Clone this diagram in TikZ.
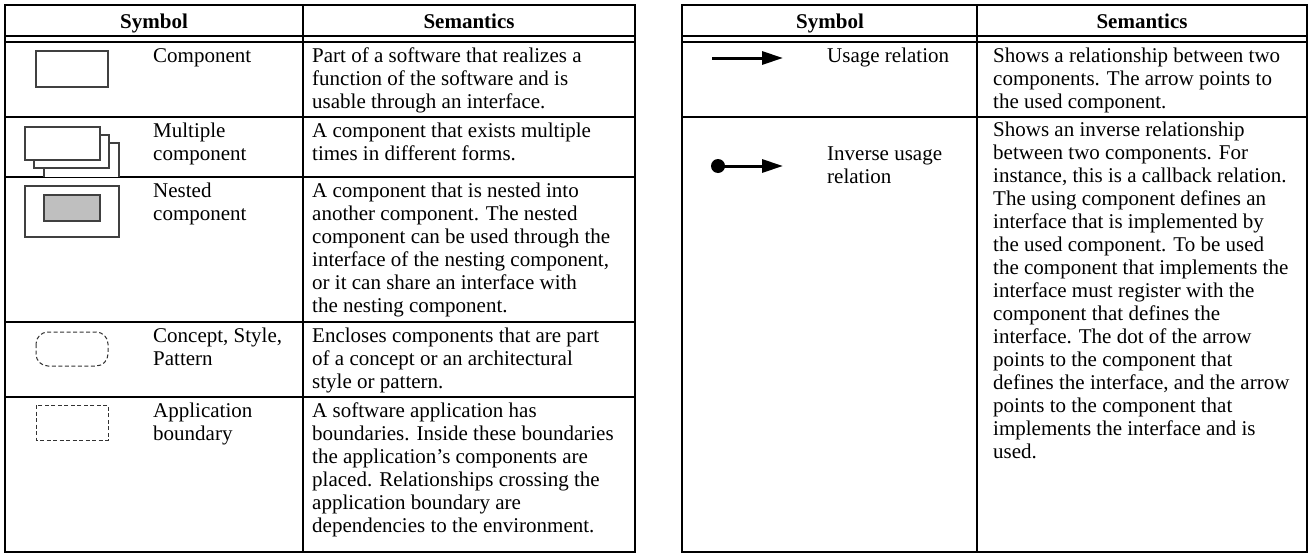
\documentclass[tikz,border=0pt]{standalone}
\usepackage{fontspec}
\setmainfont{Liberation Serif}
\usetikzlibrary{arrows.meta}
\newcommand{\celltext}[1]{\parbox[t]{340pt}{\raggedright #1}}
\begin{document}
\begin{tikzpicture}[x=1pt,y=-1pt,
  rule/.style={line width=2.3pt},
  thinrule/.style={line width=1.8pt},
  txt/.style={anchor=base west, inner sep=0pt, font=\fontsize{21}{23}\selectfont},
  head/.style={anchor=base, inner sep=0pt, font=\fontsize{21}{23}\selectfont\bfseries},
  comp/.style={draw=black!75, line width=1.3pt, fill=white},
  dashbox/.style={draw=black!80, line width=1pt, dash pattern=on 4pt off 2.5pt},
  usage/.style={line width=3pt, -{Triangle[length=21pt,width=13pt]}},
]
\useasboundingbox (0,0) rectangle (1312,557);
\fill[white] (0,0) rectangle (1312,557);

% ---------------- left table frame ----------------
\draw[rule] (5,5) rectangle (635,552);
\draw[rule] (303,5) -- (303,552);
\draw[thinrule] (5,36) -- (635,36);
\draw[thinrule] (5,42) -- (635,42);
\draw[rule] (5,117) -- (635,117);
\draw[rule] (5,177) -- (635,177);
\draw[rule] (5,322) -- (635,322);
\draw[rule] (5,397) -- (635,397);

% ---------------- right table frame ----------------
\draw[rule] (682,5) rectangle (1307,552);
\draw[rule] (977,5) -- (977,552);
\draw[thinrule] (682,36) -- (1307,36);
\draw[thinrule] (682,42) -- (1307,42);
\draw[rule] (682,117) -- (1307,117);

% ---------------- headers ----------------
\node[head] (hL1) at (154,28) {Symbol};
\node[head] (hL2) at (469,28) {Semantics};
\node[head] (hR1) at (830,28) {Symbol};
\node[head] (hR2) at (1142,28) {Semantics};

% ---------------- left symbols ----------------
% component
\draw[comp] (36,51) rectangle (108,87);
% multiple component
\draw[comp] (44,177) -- (44,143) -- (119,143) -- (119,177);
\draw[comp] (34,135) rectangle (109,168);
\draw[comp] (25,127) rectangle (100,160);
% nested component
\draw[comp] (25,186) rectangle (119,237);
\draw[comp, fill=black!25] (44,195) rectangle (100,221);
% concept, style, pattern
\draw[dashbox, rounded corners=12pt] (36,332) rectangle (108,366);
% application boundary
\draw[dashbox] (36,405) rectangle (108,440);

% ---------------- left labels ----------------
\node[txt] (l1) at (153,62) {\celltext{Component}};
\node[txt] (l2) at (153,137) {\celltext{Multiple\\component}};
\node[txt] (l3) at (153,197) {\celltext{Nested\\component}};
\node[txt] (l4) at (153,342) {\celltext{Concept, Style,\\Pattern}};
\node[txt] (l5) at (153,417) {\celltext{Application\\boundary}};

% ---------------- left semantics ----------------
\node[txt] (s1) at (312,62) {\celltext{Part of a software that realizes a\\function of the software and is\\usable through an interface.}};
\node[txt] (s2) at (312,137) {\celltext{A component that exists multiple\\times in different forms.}};
\node[txt] (s3) at (312,197) {\celltext{A component that is nested into\\another component. The nested\\component can be used through the\\interface of the nesting component,\\or it can share an interface with\\the nesting component.}};
\node[txt] (s4) at (312,342) {\celltext{Encloses components that are part\\of a concept or an architectural\\style or pattern.}};
\node[txt] (s5) at (312,417) {\celltext{A software application has\\boundaries. Inside these boundaries\\the application’s components are\\placed. Relationships crossing the\\application boundary are\\dependencies to the environment.}};

% ---------------- right symbols ----------------
\coordinate (ua) at (712,58);
\coordinate (ub) at (783,58);
\draw[usage] (ua) -- (ub);
\node[circle, fill=black, inner sep=0pt, minimum size=14pt] (dot) at (718,166) {};
\coordinate (ib) at (783,166);
\draw[usage] (dot.center) -- (ib);

% ---------------- right labels ----------------
\node[txt] (r1) at (827,62) {\celltext{Usage relation}};
\node[txt] (r2) at (827,160) {\celltext{Inverse usage\\relation}};

% ---------------- right semantics ----------------
\node[txt] (t1) at (993,62) {\celltext{Shows a relationship between two\\components. The arrow points to\\the used component.}};
\node[txt] (t2) at (993,136) {\celltext{Shows an inverse relationship\\between two components. For\\instance, this is a callback relation.\\The using component defines an\\interface that is implemented by\\the used component. To be used\\the component that implements the\\interface must register with the\\component that defines the\\interface. The dot of the arrow\\points to the component that\\defines the interface, and the arrow\\points to the component that\\implements the interface and is\\used.}};
\end{tikzpicture}
\end{document}
